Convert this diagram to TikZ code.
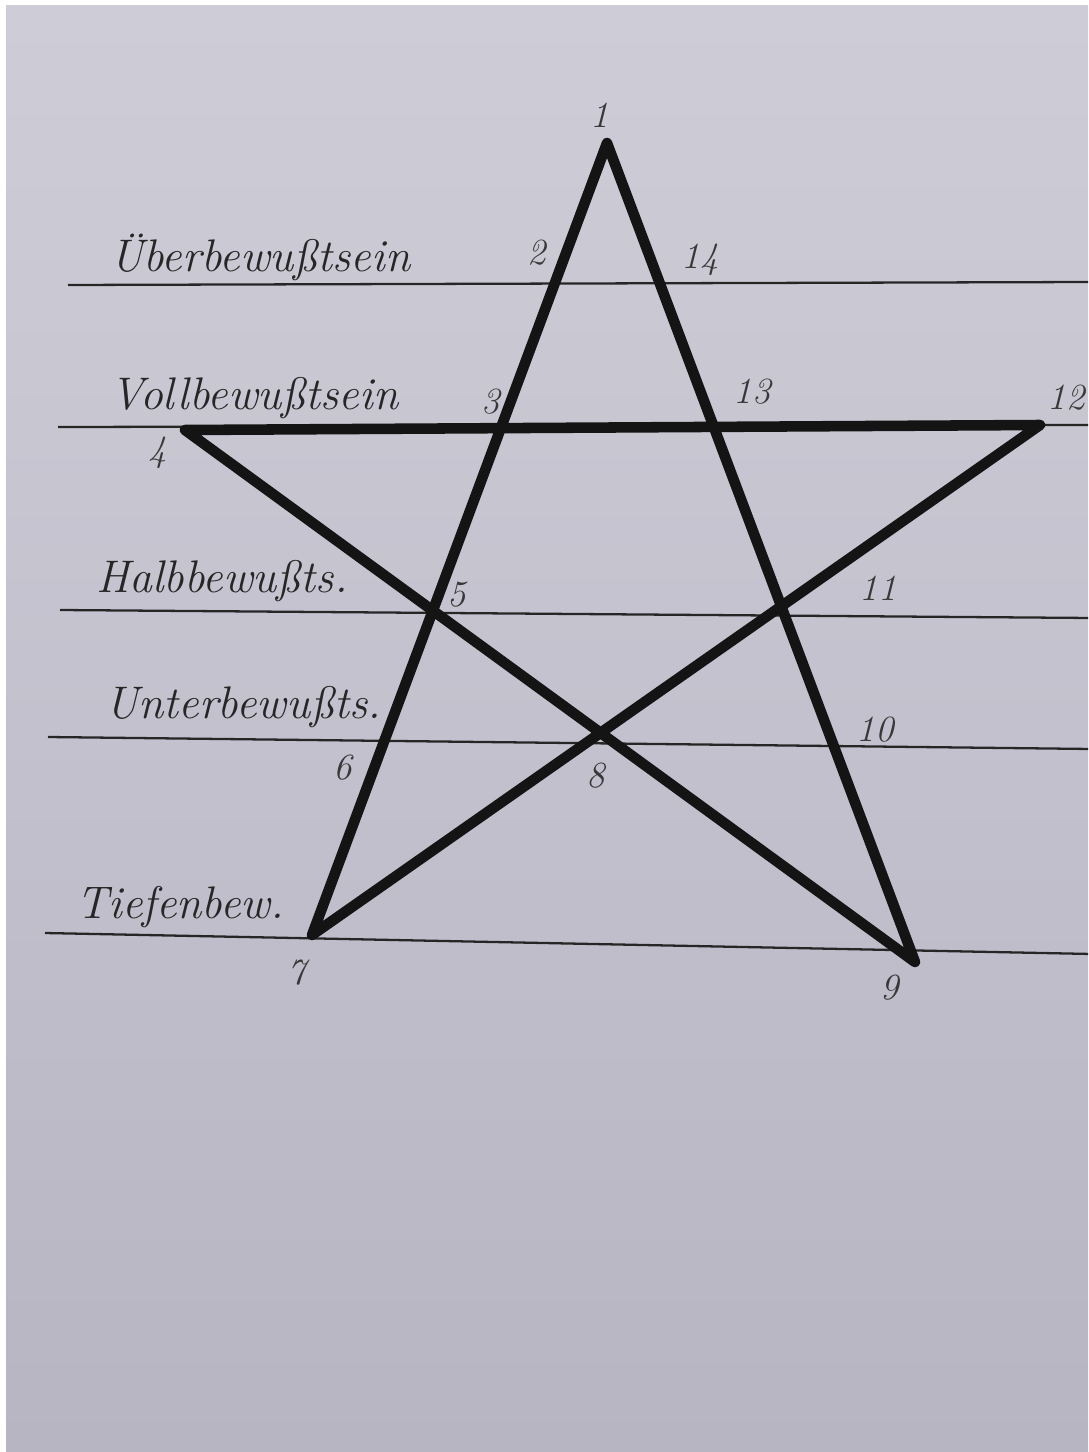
\documentclass[tikz,border=0pt]{standalone}
\usepackage{fontspec}
\setmainfont{Latin Modern Roman}
\begin{document}
\begin{tikzpicture}[x=0.02cm,y=-0.02cm,
  rule/.style={draw=black!85, line width=1.3pt},
  starline/.style={draw=black!92, line width=6pt, line join=round, line cap=round},
  word/.style={font=\fontsize{26}{26}\selectfont\itshape, text=black!85, inner sep=0pt, anchor=base west},
  num/.style={font=\fontsize{21}{21}\selectfont\itshape, text=black!78, inner sep=0pt}]
\useasboundingbox (0,0) rectangle (1088,1452);
\fill[white] (0,0) rectangle (1088,1452);
\begin{scope}
\clip (6,6) rectangle (1088,1452);
\shade[top color={rgb,255:red,206;green,205;blue,215}, middle color={rgb,255:red,224;green,223;blue,232}, bottom color={rgb,255:red,184;green,181;blue,195}] (6,6) rectangle (1088,1452);
% ruled lines
\coordinate (l1a) at (68,285);  \coordinate (l1b) at (1092,282);
\coordinate (l2a) at (58,427);  \coordinate (l2b) at (1092,425);
\coordinate (l3a) at (60,610);  \coordinate (l3b) at (1092,618);
\coordinate (l4a) at (48,737);  \coordinate (l4b) at (1092,749);
\coordinate (l5a) at (45,933);  \coordinate (l5b) at (1092,954);
\draw[rule] (l1a) -- (l1b);
\draw[rule] (l2a) -- (l2b);
\draw[rule] (l3a) -- (l3b);
\draw[rule] (l4a) -- (l4b);
\draw[rule] (l5a) -- (l5b);
% star points
\coordinate (p1) at (607,143);
\coordinate (p4) at (185,430);
\coordinate (p12) at (1040,425);
\coordinate (p7) at (312,935);
\coordinate (p9) at (915,962);
\draw[starline] (p7) -- (p1) -- (p9) -- (p4) -- (p12) -- cycle;
% level words
\node[word] (w1) at (110,272) {Überbewußtsein};
\node[word] (w2) at (110,410) {Vollbewußtsein};
\node[word] (w3) at (96,592) {Halbbewußts.};
\node[word] (w4) at (105,718) {Unterbewußts.};
\node[word] (w5) at (76,918) {Tiefenbew.};
% numbers
\node[num] (n1) at (600,115) {1};
\node[num] (n2) at (537,253) {2};
\node[num] (n14) at (700,260) {14};
\node[num] (n3) at (491,402) {3};
\node[num] (n13) at (752,392) {13};
\node[num] (n12) at (1066,398) {12};
\node[num] (n4) at (158,453) {4};
\node[num] (n5) at (457,595) {5};
\node[num] (n11) at (878,588) {11};
\node[num] (n10) at (875,730) {10};
\node[num] (n6) at (343,768) {6};
\node[num] (n8) at (596,776) {8};
\node[num] (n7) at (297,973) {7};
\node[num] (n9) at (890,988) {9};
\end{scope}
\end{tikzpicture}
\end{document}
